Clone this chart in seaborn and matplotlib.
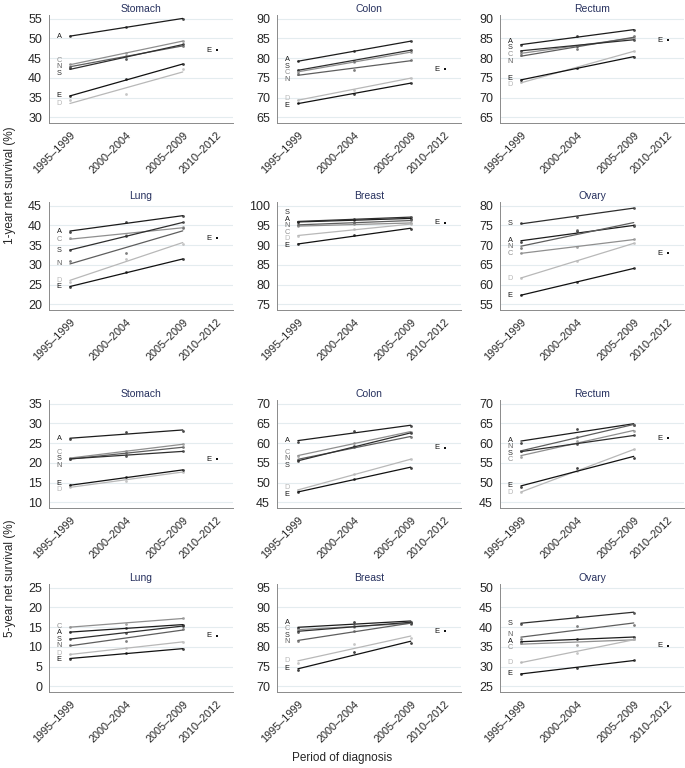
import numpy as np
import pandas as pd
import matplotlib
matplotlib.use("Agg")
import matplotlib.pyplot as plt
import seaborn as sns

# ---------------- data ----------------
periods = ["1995–1999", "2000–2004", "2005–2009"]
latest_period = "2010–2012"
countries = ["A", "C", "D", "E", "N", "S"]
cancers = ["Stomach", "Colon", "Rectum", "Lung", "Breast", "Ovary"]

# 1-year net survival (%) by country, three periods
stomach_1y = {"A": [50.5, 53.0, 55.0], "C": [43.4, 46.2, 49.4], "D": [34.3, 35.9, 42.3],
              "E": [35.3, 39.7, 43.4], "N": [42.8, 45.5, 48.1], "S": [42.4, 44.8, 48.7]}
colon_1y = {"A": [79.2, 81.8, 84.3], "C": [76.5, 79.1, 81.5], "D": [69.4, 72.0, 75.0],
            "E": [68.5, 71.0, 73.7], "N": [75.9, 77.0, 79.6], "S": [77.0, 79.3, 82.1]}
rectum_1y = {"A": [83.3, 85.6, 87.1], "C": [81.3, 83.0, 85.2], "D": [73.9, 77.4, 81.9],
             "E": [74.4, 77.6, 80.3], "N": [80.8, 82.3, 85.6], "S": [81.9, 83.2, 84.7]}
lung_1y = {"A": [38.4, 40.9, 42.3], "C": [36.7, 37.6, 39.6], "D": [25.7, 31.6, 35.3],
           "E": [24.4, 28.2, 31.4], "N": [31.0, 32.9, 39.4], "S": [33.8, 37.2, 40.8]}
breast_1y = {"A": [95.8, 96.5, 96.7], "C": [94.8, 95.3, 95.6], "D": [92.4, 94.0, 95.3],
             "E": [90.2, 92.5, 94.2], "N": [95.2, 95.6, 96.3], "S": [96.0, 96.6, 97.1]}
ovary_1y = {"A": [70.9, 73.5, 74.8], "C": [68.0, 69.5, 71.5], "D": [61.7, 66.0, 70.5],
            "E": [57.3, 60.7, 64.1], "N": [69.2, 73.8, 75.2], "S": [75.5, 77.2, 79.5]}

# 5-year net survival (%)
stomach_5y = {"A": [26.0, 27.8, 28.1], "C": [21.2, 23.0, 24.7], "D": [13.9, 15.5, 17.8],
              "E": [14.3, 16.3, 18.2], "N": [21.0, 22.4, 24.0], "S": [21.1, 21.8, 23.0]}
colon_5y = {"A": [60.4, 63.1, 64.3], "C": [56.8, 60.0, 62.9], "D": [48.1, 52.1, 55.9],
            "E": [47.5, 51.0, 53.8], "N": [55.8, 59.0, 61.6], "S": [55.4, 59.3, 62.5]}
rectum_5y = {"A": [60.1, 63.6, 64.5], "C": [56.6, 60.5, 63.0], "D": [47.6, 53.0, 58.4],
             "E": [48.8, 53.6, 56.3], "N": [58.0, 61.5, 64.7], "S": [57.9, 59.8, 62.0]}
lung_5y = {"A": [13.7, 14.8, 15.6], "C": [15.1, 15.9, 17.3], "D": [8.1, 9.6, 11.3],
           "E": [7.0, 8.4, 9.5], "N": [10.6, 11.6, 14.6], "S": [12.1, 13.4, 15.4]}
breast_5y = {"A": [84.7, 86.3, 86.3], "C": [84.4, 85.1, 86.0], "D": [75.9, 80.7, 82.2],
             "E": [74.1, 78.6, 81.1], "N": [81.5, 84.1, 85.9], "S": [83.8, 85.4, 86.1]}
ovary_5y = {"A": [36.3, 36.9, 37.5], "C": [36.0, 35.6, 37.1], "D": [31.2, 33.5, 37.0],
            "E": [28.2, 29.7, 31.6], "N": [37.0, 40.2, 40.6], "S": [40.8, 42.8, 43.6]}

# country E, 2010-2012
latest_E_1y = [47.0, 77.2, 84.5, 36.7, 95.7, 68.0]
latest_E_5y = [20.9, 58.8, 61.2, 12.8, 84.0, 35.3]

# lowest y tick of each panel
ytick_low_1y = [30, 65, 65, 20, 75, 55]
ytick_low_5y = [10, 45, 45, 0, 70, 25]

blocks = [
    ("1-year", [stomach_1y, colon_1y, rectum_1y, lung_1y, breast_1y, ovary_1y], latest_E_1y, ytick_low_1y),
    ("5-year", [stomach_5y, colon_5y, rectum_5y, lung_5y, breast_5y, ovary_5y], latest_E_5y, ytick_low_5y),
]

# ---------------- style ----------------
sns.set_theme(style="white")
plt.rcParams["font.family"] = ["Liberation Sans", "DejaVu Sans"]

xpos = {"1995–1999": 0.0, "2000–2004": 1.0, "2005–2009": 2.0, "2010–2012": 2.6}
colors = {"A": "#1c1c1c", "C": "#8f8f8f", "D": "#b8b8b8", "E": "#111111", "N": "#5e5e5e", "S": "#2e2e2e"}
title_color = "#26305e"
W, H = 685, 768
fig = plt.figure(figsize=(W / 100, H / 100), dpi=100)

col_left = [49, 277, 500]
row_top = [15, 202, 400, 584]
ax_w, ax_h = 184, 108


def spread(vals, gap):
    v = np.array(vals, dtype=float)
    order = np.argsort(v)
    p = v[order].copy()
    for _ in range(300):
        moved = False
        for i in range(len(p) - 1):
            d = p[i + 1] - p[i]
            if d < gap - 1e-9:
                s = (gap - d) / 2
                p[i] -= s
                p[i + 1] += s
                moved = True
        if not moved:
            break
    out = np.empty_like(p)
    out[order] = p
    return out


for b, (blockname, panels, latest, lows) in enumerate(blocks):
    for k, (cancer, pdata) in enumerate(zip(cancers, panels)):
        r = b * 2 + k // 3
        c = k % 3
        left = col_left[c] / W
        bottom = 1 - (row_top[r] + ax_h) / H
        ax = fig.add_axes([left, bottom, ax_w / W, ax_h / H])

        rows = []
        for ctry in countries:
            for per, val in zip(periods, pdata[ctry]):
                rows.append({"country": ctry, "period": per, "x": xpos[per], "value": val})
        df = pd.DataFrame(rows)

        starts = []
        for ctry in countries:
            sub = df[df.country == ctry]
            sns.regplot(data=sub, x="x", y="value", ci=None, ax=ax, color=colors[ctry],
                        scatter_kws={"s": 4, "marker": "s", "linewidths": 0},
                        line_kws={"lw": 0.9})
            slope, icpt = np.polyfit(sub.x, sub.value, 1)
            starts.append(icpt)

        lab_y = spread(starts, 1.65)
        for ctry, yy in zip(countries, lab_y):
            ax.text(-0.19, yy, ctry, color=colors[ctry], fontsize=5.3, ha="center", va="center")

        edf = pd.DataFrame({"x": [xpos[latest_period]], "value": [latest[k]]})
        sns.scatterplot(data=edf, x="x", y="value", ax=ax, color=colors["E"], s=4,
                        marker="s", linewidth=0)
        ax.text(xpos[latest_period] - 0.14, latest[k], "E", color=colors["E"], fontsize=5.5,
                ha="center", va="center")

        lo = lows[k]
        ax.set_ylim(lo - 1.45, lo + 25 + 0.95)
        ax.set_yticks(np.arange(lo, lo + 26, 5))
        ax.set_xlim(-0.37, 2.89)
        ax.set_xticks([xpos[p] for p in periods + [latest_period]])
        ax.set_xticklabels(periods + [latest_period], rotation=45, ha="right",
                           rotation_mode="anchor", fontsize=7.8)
        ax.tick_params(axis="y", labelsize=9, length=3, width=0.6, color="#888888", pad=2)
        ax.tick_params(axis="x", length=3, width=0.6, color="#888888", pad=2)
        ax.set_xlabel("")
        ax.set_ylabel("")
        ax.yaxis.grid(True, color="#e4ecef", lw=0.8)
        ax.set_axisbelow(True)
        for s in ["top", "right"]:
            ax.spines[s].set_visible(False)
        for s in ["left", "bottom"]:
            ax.spines[s].set_color("#8a8a8a")
            ax.spines[s].set_linewidth(0.7)
        ax.set_title(cancer, fontsize=7.5, color=title_color, pad=2)

fig.text(10 / W, 1 - 185 / H, "1-year net survival (%)", rotation=90, ha="center", va="center", fontsize=8.5)
fig.text(10 / W, 1 - 578 / H, "5-year net survival (%)", rotation=90, ha="center", va="center", fontsize=8.5)
fig.text(0.5, 1 - 758 / H, "Period of diagnosis", ha="center", va="center", fontsize=8.5)

fig.savefig("out.png", dpi=100)
